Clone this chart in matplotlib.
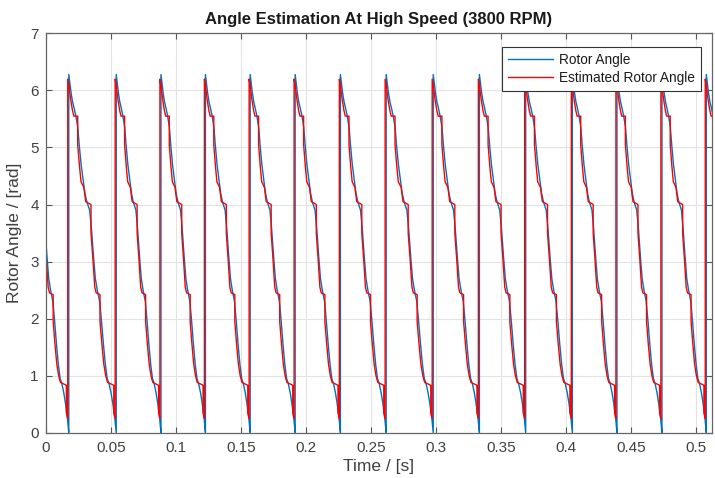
import numpy as np
import matplotlib
matplotlib.use("Agg")
import matplotlib.pyplot as plt

# Electrical angle wrap-around instants (s)
rotor_resets = [0.0177, 0.0542, 0.0886, 0.1228, 0.1572, 0.1918, 0.2266,
                0.2618, 0.2980, 0.3335, 0.3691, 0.4050, 0.4393, 0.4739, 0.5080]
estimated_resets = [0.0169, 0.0534, 0.0878, 0.1220, 0.1564, 0.1910, 0.2258,
                    0.2610, 0.2972, 0.3327, 0.3683, 0.4042, 0.4385, 0.4731, 0.5072]

# One electrical revolution: fraction of period -> angle (rad)
rotor_phase = [0.00, 0.02, 0.05, 0.08, 0.11, 0.15, 0.19, 0.22, 0.26, 0.30,
               0.34, 0.38, 0.44, 0.48, 0.52, 0.56, 0.60, 0.65, 0.69, 0.73,
               0.77, 0.81, 0.85, 0.89, 0.93, 0.97, 1.00]
rotor_angle = [6.28, 6.15, 5.95, 5.80, 5.70, 5.55, 5.35, 5.05, 4.70, 4.45,
               4.20, 4.05, 3.90, 3.55, 3.10, 2.70, 2.50, 2.30, 1.95, 1.55,
               1.20, 0.95, 0.85, 0.70, 0.50, 0.25, 0.00]

est_phase = [0.00, 0.03, 0.06, 0.10, 0.13, 0.21, 0.21, 0.25, 0.28, 0.34,
             0.38, 0.49, 0.49, 0.53, 0.57, 0.60, 0.68, 0.68, 0.72, 0.76,
             0.80, 0.84, 0.97, 0.97, 1.00]
est_angle = [6.20, 6.05, 5.85, 5.65, 5.55, 5.55, 5.05, 4.65, 4.40, 4.30,
             4.05, 4.00, 3.50, 3.05, 2.55, 2.45, 2.42, 1.95, 1.55, 1.20,
             1.00, 0.88, 0.83, 0.35, 0.25]

x_ticks = [0, 0.05, 0.1, 0.15, 0.2, 0.25, 0.3, 0.35, 0.4, 0.45, 0.5]
x_tick_labels = ["0", "0.05", "0.1", "0.15", "0.2", "0.25", "0.3", "0.35",
                 "0.4", "0.45", "0.5"]
y_ticks = [0, 1, 2, 3, 4, 5, 6, 7]
t_end = 0.5125


def build_trace(resets, phase, angle):
    """Repeat the per-revolution profile between consecutive wrap instants."""
    resets = np.asarray(resets)
    periods = np.diff(resets)
    mean_p = periods.mean()
    starts = np.concatenate([[resets[0] - mean_p], resets])
    lengths = np.concatenate([[mean_p], periods, [mean_p]])
    ph = np.asarray(phase)
    ang = np.asarray(angle)
    t = np.concatenate([s + ph * p for s, p in zip(starts, lengths)])
    y = np.tile(ang, len(starts))
    return t, y


t_rot, y_rot = build_trace(rotor_resets, rotor_phase, rotor_angle)
t_est, y_est = build_trace(estimated_resets, est_phase, est_angle)

plt.rcParams["font.family"] = ["Liberation Sans", "DejaVu Sans"]
txt_col = "#404040"

fig = plt.figure(figsize=(7.15, 4.78), dpi=100)
ax = fig.add_axes([0.064, 0.095, 0.932, 0.835])

ax.plot(t_rot, y_rot, color="#0072BD", lw=1.0, label="Rotor Angle")
ax.plot(t_est, y_est, color="#FF0000", lw=1.0, label="Estimated Rotor Angle")

ax.set_xlim(0, t_end)
ax.set_ylim(0, 7)
ax.set_xticks(x_ticks)
ax.set_xticklabels(x_tick_labels)
ax.set_yticks(y_ticks)
ax.grid(True, color="#e3e3e3", lw=0.8)
ax.set_axisbelow(True)
ax.tick_params(direction="in", length=4, width=0.8, colors="#555555",
               labelcolor=txt_col, labelsize=11, top=True, right=True)
ax.tick_params(axis="x", pad=6)
ax.tick_params(axis="y", pad=5)
for sp in ax.spines.values():
    sp.set_color("#666666")
    sp.set_linewidth(0.9)

ax.set_title("Angle Estimation At High Speed (3800 RPM)", fontsize=12,
             fontweight="bold", color="#1a1a1a", pad=7)
ax.set_xlabel("Time / [s]", fontsize=12.5, color=txt_col, labelpad=3)
ax.set_ylabel("Rotor Angle / [rad]", fontsize=12.5, color=txt_col, labelpad=6)

leg = ax.legend(loc="upper right", fontsize=9.8, frameon=True, fancybox=False,
                framealpha=1, edgecolor="#333333", borderpad=0.45,
                handlelength=3.3, handletextpad=0.45, labelspacing=0.25,
                borderaxespad=0.65, bbox_to_anchor=(0.997, 0.988))
leg.get_frame().set_linewidth(0.8)
for txt in leg.get_texts():
    txt.set_color("#1a1a1a")

fig.savefig("out.png", dpi=100)
